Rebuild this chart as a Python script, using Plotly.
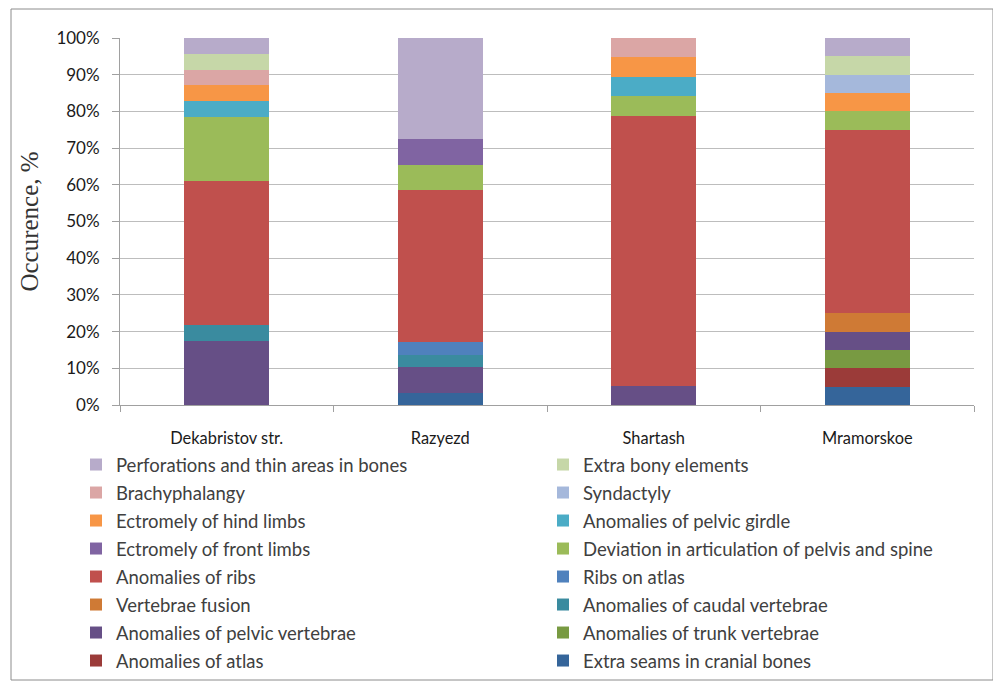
import plotly.graph_objects as go

sites = ["Dekabristov str.", "Razyezd", "Shartash", "Mramorskoe"]

# bottom-to-top stacking order
series_names = [
    "Extra seams in cranial bones",
    "Anomalies of atlas",
    "Anomalies of trunk vertebrae",
    "Anomalies of pelvic vertebrae",
    "Anomalies of caudal vertebrae",
    "Vertebrae fusion",
    "Ribs on atlas",
    "Anomalies of ribs",
    "Deviation in articulation of pelvis and spine",
    "Ectromely of front limbs",
    "Anomalies of pelvic girdle",
    "Ectromely of hind limbs",
    "Syndactyly",
    "Brachyphalangy",
    "Extra bony elements",
    "Perforations and thin areas in bones",
]

# occurrence, % per site (Dekabristov, Razyezd, Shartash, Mramorskoe)
extra_seams   = [0.0, 3.4, 0.0, 5.0]
atlas         = [0.0, 0.0, 0.0, 5.0]
trunk_vert    = [0.0, 0.0, 0.0, 5.0]
pelvic_vert   = [17.4, 6.9, 5.3, 5.0]
caudal_vert   = [4.3, 3.4, 0.0, 0.0]
vert_fusion   = [0.0, 0.0, 0.0, 5.0]
ribs_on_atlas = [0.0, 3.4, 0.0, 0.0]
ribs          = [39.1, 41.4, 73.7, 50.0]
deviation     = [17.4, 6.9, 5.3, 5.0]
ectro_front   = [0.0, 6.9, 0.0, 0.0]
pelvic_girdle = [4.3, 0.0, 5.3, 0.0]
ectro_hind    = [4.3, 0.0, 5.3, 5.0]
syndactyly    = [0.0, 0.0, 0.0, 5.0]
brachy        = [4.3, 0.0, 5.3, 0.0]
extra_bony    = [4.3, 0.0, 0.0, 5.0]
perforations  = [4.3, 27.6, 0.0, 5.0]

series_values = [extra_seams, atlas, trunk_vert, pelvic_vert, caudal_vert, vert_fusion,
                 ribs_on_atlas, ribs, deviation, ectro_front, pelvic_girdle, ectro_hind,
                 syndactyly, brachy, extra_bony, perforations]

colors = ["#35659a", "#9b3b39", "#789a42", "#664f86", "#3a8b9f", "#cf7a35",
          "#4f81bd", "#c0504d", "#9bbb59", "#8064a2", "#4bacc6", "#f79646",
          "#a5b8db", "#dba6a5", "#c6d7a8", "#b7abca"]

y_ticks = [0, 10, 20, 30, 40, 50, 60, 70, 80, 90, 100]
y_tick_labels = [f"{v}%" for v in y_ticks]

# legend layout: 8 rows of 2 entries, series 16..1 read row-wise
N = len(series_names)
legend_of = {}
for k, idx in enumerate(range(N - 1, -1, -1)):
    row = k // 2
    legend_of[idx] = "legend" if row == 0 else f"legend{row + 1}"

fig = go.Figure()
for i, (name, vals, col) in enumerate(zip(series_names, series_values, colors)):
    fig.add_trace(go.Bar(x=sites, y=vals, name=name, marker_color=col,
                         marker_line_width=0, legend=legend_of[i]))

# plot area in figure pixels (page has an 8px body margin)
L, R, T, B = 112, 35, 30, 284
H = 681
PW, PH = 1001 - L - R, H - T - B

legend_layouts = {}
row_y = [457, 485, 513, 541, 569, 597, 625, 653]
for r, py in enumerate(row_y):
    key = "legend" if r == 0 else f"legend{r + 1}"
    legend_layouts[key] = dict(
        orientation="h",
        traceorder="reversed",
        x=(68 - L) / PW, xanchor="left",
        y=(H - B - py) / PH, yanchor="middle",
        entrywidth=422, entrywidthmode="pixels",
        font=dict(size=18.5, color="#404040"),
        bgcolor="rgba(0,0,0,0)",
        borderwidth=0,
    )

fig.update_layout(
    barmode="stack",
    barnorm="percent",
    bargap=0.6,
    width=1001, height=H,
    margin=dict(l=L, r=R, t=T, b=B, autoexpand=False),
    paper_bgcolor="white", plot_bgcolor="white",
    font=dict(family="Lato, Open Sans, sans-serif", color="#404040"),
    xaxis=dict(
        showline=True, linecolor="#a0a0a0", linewidth=1,
        ticks="outside", ticklen=6, tickcolor="#a0a0a0",
        tickson="boundaries",
        tickfont=dict(size=16.4, color="#1a1a1a"),
        ticklabelstandoff=18,
        fixedrange=True,
    ),
    yaxis=dict(
        range=[0, 100],
        tickvals=y_ticks, ticktext=y_tick_labels,
        showline=True, linecolor="#a0a0a0", linewidth=1,
        ticks="outside", ticklen=7, tickcolor="#a0a0a0",
        showgrid=True, gridcolor="#bdbdbd", gridwidth=1,
        tickfont=dict(size=17, color="#1a1a1a"),
        ticklabelstandoff=9,
        title=dict(text="Occurence, %",
                   font=dict(family="Liberation Serif, Times New Roman, serif", size=25, color="#333333"),
                   standoff=10),
        fixedrange=True,
    ),
    showlegend=True,
    **legend_layouts,
)

# outer chart border
fig.add_shape(type="rect", xref="paper", yref="paper",
              x0=(3 - L) / PW, x1=(985 - L) / PW,
              y0=(H - B - 672) / PH, y1=(H - B - 1) / PH,
              line=dict(color="#8c8c8c", width=1), layer="below")

fig.write_html("out.html")
